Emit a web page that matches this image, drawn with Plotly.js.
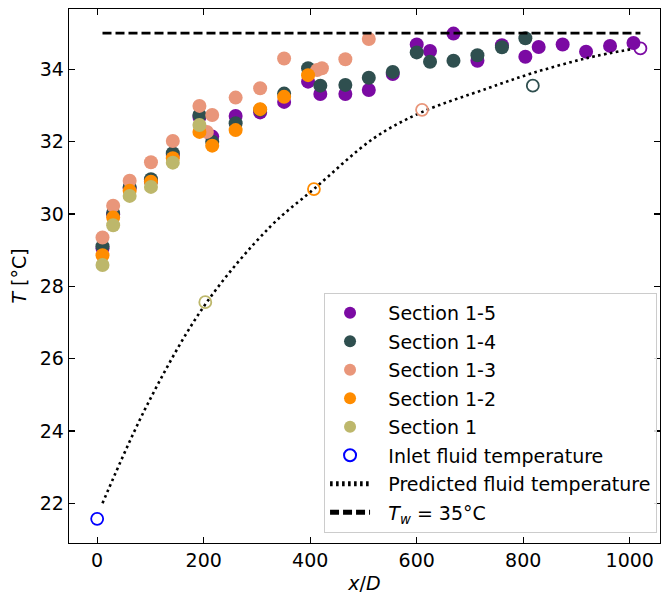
<!DOCTYPE html>
<html>
<head>
<meta charset="utf-8">
<script src="https://cdn.plot.ly/plotly-3.0.1.min.js"></script>
<style>html,body{margin:0;padding:0;background:#fff;}#chart{width:663px;height:598px;}</style>
</head>
<body>
<div id="chart"></div>
<script>
// ---- data ----
const s15X = [10, 30, 61, 101, 142, 192, 216, 260, 306, 351, 396, 419, 466, 510, 555, 600, 625, 669, 714, 760, 804, 829, 874, 918, 963, 1007];
const s15T = [29.05, 29.99, 30.72, 30.90, 31.63, 32.68, 32.14, 32.71, 32.81, 33.10, 33.66, 33.32, 33.32, 33.43, 33.87, 34.69, 34.51, 34.99, 34.24, 34.67, 34.35, 34.62, 34.69, 34.49, 34.65, 34.73];

const s14X = [10, 30, 61, 101, 142, 192, 216, 260, 306, 351, 396, 419, 466, 510, 555, 600, 625, 669, 714, 760, 804];
const s14T = [29.11, 30.03, 30.75, 30.96, 31.68, 32.74, 32.00, 32.51, 32.88, 33.33, 34.03, 33.55, 33.57, 33.77, 33.93, 34.47, 34.21, 34.24, 34.39, 34.61, 34.86];

const s13X = [10, 30, 61, 101, 142, 192, 206, 216, 260, 306, 351, 413, 422, 466, 510];
const s13T = [29.35, 30.23, 30.92, 31.43, 32.02, 32.99, 32.27, 32.74, 33.22, 33.48, 34.30, 33.98, 34.03, 34.28, 34.84];

const s12X = [10, 30, 61, 101, 142, 192, 216, 260, 306, 351, 396];
const s12T = [28.86, 29.90, 30.64, 30.89, 31.54, 32.27, 31.89, 32.32, 32.90, 33.24, 33.84];

const s1X = [10, 30, 61, 101, 142, 192];
const s1T = [28.59, 29.69, 30.50, 30.75, 31.42, 32.46];

const inletX = [0];
const inletT = [21.57];

// open circles at the end of each section (not in legend)
const endX = [203, 407, 610, 818, 1020];
const endT = [27.56, 30.69, 32.88, 33.55, 34.58];
const endColors = ['#BDB76B', '#FF8C00', '#E9967A', '#2F4F4F', '#7B0AA3'];

const predX = [10, 97, 203, 325, 407, 519, 607, 732, 816, 919, 1007];
const predT = [22.0, 24.81, 27.5, 29.65, 30.69, 32.09, 32.8, 33.47, 33.89, 34.31, 34.57];

const wallX = [10, 1020];
const wallT = [35, 35];

const xTicks = [0, 200, 400, 600, 800, 1000];
const yTicks = [22, 24, 26, 28, 30, 32, 34];

const names = ['Section 1-5', 'Section 1-4', 'Section 1-3', 'Section 1-2', 'Section 1',
  'Inlet fluid temperature', 'Predicted fluid temperature', '<i>T</i><sub><i>w</i></sub> = 35°C'];
const colors = ['#7B0AA3', '#2F4F4F', '#E9967A', '#FF8C00', '#BDB76B', '#0000FF'];
const PAD = '\u2002\u2009';

// ---- traces ----
const MS = 14;
function sec(x, y, i) {
  return {x: x, y: y, type: 'scatter', mode: 'markers', name: PAD + names[i], legendgroup: 'g' + i,
    marker: {color: colors[i], size: MS, line: {width: 0}}};
}
const traces = [
  sec(s15X, s15T, 0), sec(s14X, s14T, 1), sec(s13X, s13T, 2), sec(s12X, s12T, 3), sec(s1X, s1T, 4),
  {x: inletX, y: inletT, type: 'scatter', mode: 'markers', name: PAD + names[5], legendgroup: 'g5',
    marker: {symbol: 'circle-open', color: colors[5], size: 12, line: {width: 1.8, color: colors[5]}}},
  {x: predX, y: predT, type: 'scatter', mode: 'lines', name: PAD + names[6], legendgroup: 'g6',
    line: {color: '#000', width: 2.6, dash: '2.6px,3.4px', shape: 'spline', smoothing: 1}},
  {x: wallX, y: wallT, type: 'scatter', mode: 'lines', name: PAD + names[7], legendgroup: 'g7',
    line: {color: '#000', width: 2.7, dash: '9px,4px'}}
];
for (let k = 0; k < endX.length; k++) {
  traces.push({x: [endX[k]], y: [endT[k]], type: 'scatter', mode: 'markers', showlegend: false,
    marker: {symbol: 'circle-open', color: endColors[k], size: 12, line: {width: 1.8, color: endColors[k]}}});
}

const axisCommon = {
  showgrid: false, zeroline: false, showline: true, linecolor: '#000', linewidth: 1.3,
  mirror: 'allticks', ticks: 'inside', ticklen: 6, tickwidth: 1.3, tickcolor: '#000',
  tickfont: {family: 'DejaVu Sans', size: 19, color: '#000'}
};

const layout = {
  width: 663, height: 598, autosize: false,
  margin: {l: 69, r: 3, t: 9, b: 55, pad: 0},
  paper_bgcolor: '#fff', plot_bgcolor: '#fff',
  font: {family: 'DejaVu Sans', size: 19, color: '#000'},
  xaxis: Object.assign({}, axisCommon, {
    range: [-52.9, 1056.8], tickmode: 'array', tickvals: xTicks,
    title: {text: '<i>x</i>/<i>D</i>', font: {family: 'DejaVu Sans', size: 19}, standoff: 6}
  }),
  yaxis: Object.assign({}, axisCommon, {
    range: [20.90, 35.67], tickmode: 'array', tickvals: yTicks,
    title: {text: '<i>T</i> [°C]', font: {family: 'DejaVu Sans', size: 19}, standoff: 8}
  }),
  showlegend: true,
  legend: {
    x: 0.995, y: 0.019, xanchor: 'right', yanchor: 'bottom',
    bgcolor: 'rgba(255,255,255,0.85)', bordercolor: '#cccccc', borderwidth: 1,
    font: {family: 'DejaVu Sans', size: 19, color: '#000'},
    traceorder: 'grouped', tracegroupgap: 0.8, itemwidth: 40, itemsizing: 'constant'
  }
};

Plotly.newPlot('chart', traces, layout, {displayModeBar: false, staticPlot: true});
</script>
</body>
</html>
